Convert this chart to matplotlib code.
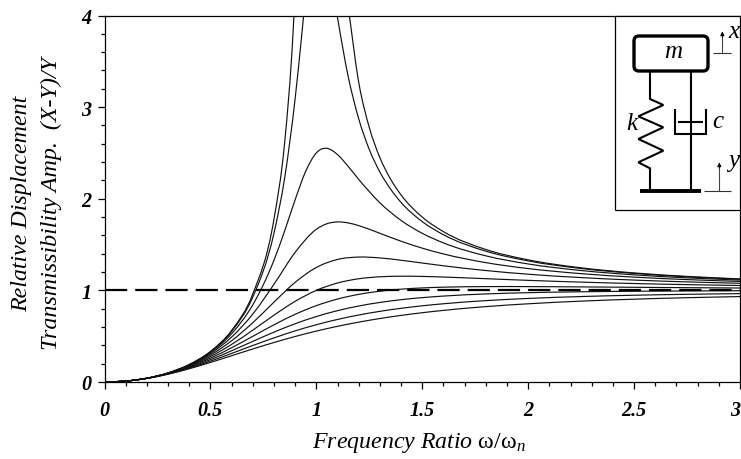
import matplotlib
matplotlib.use("Agg")
import matplotlib.pyplot as plt
from matplotlib.patches import FancyBboxPatch, Rectangle, PathPatch
from matplotlib.path import Path
from matplotlib.ticker import MultipleLocator, FixedFormatter, FixedLocator

plt.rcParams['font.family'] = ['Liberation Serif', 'DejaVu Serif']
plt.rcParams['mathtext.fontset'] = 'custom'
plt.rcParams['mathtext.rm'] = 'Liberation Serif'
plt.rcParams['mathtext.it'] = 'Liberation Serif:italic'

# Shared frequency-ratio grid for the heavily damped curves
ratio = [0, .1, .2, .3, .4, .5, .6, .7, .8, .9, 1, 1.1, 1.2, 1.3, 1.4, 1.5, 1.6, 1.8, 2, 2.25, 2.5, 2.75, 3]
curve_90 = [0, .0099, .0390, .0851, .1446, .2134, .2868, .3605, .4312, .4966, .5556, .6077, .6532, .6927, .7268, .7562, .7816, .8226, .8536, .8825, .9039, .92, .9325]
curve_80 = [0, .0100, .0395, .0875, .1515, .2280, .3120, .3982, .4813, .5577, .625, .6827, .7311, .7712, .8042, .8315, .8539, .8880, .9119, .9327, .9470, .9571, .9647]
curve_70 = [0, .0100, .0400, .0898, .1585, .2437, .3409, .4435, .5440, .6357, .7143, .7785, .8292, .8683, .8981, .9207, .9378, .9610, .9747, .9847, .9905, .9939, .9961]
curve_60 = [0, .0100, .0404, .0920, .1654, .2603, .3737, .4986, .6242, .7387, .8333, .9053, .9564, .9907, 1.0130, 1.0267, 1.0348, 1.0412, 1.0412, 1.0379, 1.0336, 1.0295, 1.0259]
curve_50 = [0, .0101, .0408, .0939, .1720, .2773, .4104, .5658, .7295, .8806, 1.0, 1.0805, 1.1267, 1.1483, 1.1546, 1.1523, 1.1456, 1.1275, 1.1094, 1.0901, 1.0748, 1.0628, 1.0534]
curve_40 = [0, .0101, .0411, .0956, .1780, .2941, .45, .6469, .8716, 1.0878, 1.25, 1.3374, 1.3636, 1.3541, 1.3287, 1.2985, 1.2686, 1.2167, 1.1765, 1.1394, 1.1125, 1.0925, 1.0776]

# Curves with a sharper peak carry extra points around it
ratio_30 = [0, .1, .2, .3, .4, .5, .6, .7, .8, .9, 1, 1.05, 1.1, 1.15, 1.2, 1.3, 1.4, 1.5, 1.6, 1.8, 2, 2.25, 2.5, 2.75, 3]
curve_30 = [0, .0101, .0413, .0970, .1831, .3095, .4903, .7416, 1.0667, 1.4149, 1.6667, 1.7273, 1.7470, 1.7364, 1.7066, 1.6228, 1.5365, 1.4608, 1.3976, 1.3029, 1.2380, 1.1825, 1.1447, 1.1176, 1.0976]
ratio_20 = [0, .1, .2, .3, .4, .5, .6, .7, .8, .85, .9, .95, 1, 1.02, 1.05, 1.1, 1.15, 1.2, 1.3, 1.4, 1.5, 1.6, 1.8, 2, 2.25, 2.5, 2.75, 3]
curve_20 = [0, .0101, .0415, .0981, .1871, .3221, .5267, .8422, 1.3287, 1.6462, 1.9898, 2.3005, 2.5, 2.5376, 2.5503, 2.4818, 2.3541, 2.2114, 1.9560, 1.7635, 1.6228, 1.5182, 1.3770, 1.2883, 1.2167, 1.1695, 1.1365, 1.1125]
ratio_10 = [0, .1, .2, .3, .4, .5, .6, .7, .8, .85, .9, .93, .95, 1, 1.05, 1.1, 1.15, 1.2, 1.25, 1.3, 1.35, 1.4, 1.5, 1.6, 1.8, 2, 2.25, 2.5, 2.75, 3]
curve_10 = [0, .0101, .0416, .0987, .1896, .3304, .5528, .9265, 1.6244, 2.2203, 3.0951, 3.7621, 4.2272, 5.0, 4.718, 3.979, 3.3388, 2.8731, 2.538, 2.2919, 2.107, 1.96, 1.7503, 1.6075, 1.4281, 1.3216, 1.2386, 1.1851, 1.1483, 1.1219]
ratio_00a = [0, .1, .2, .3, .4, .5, .6, .7, .8, .85, .89, .9]
curve_00a = [0, .0101, .0417, .0989, .1905, .3333, .5625, .9608, 1.7778, 2.6036, 3.810, 4.263]
ratio_00b = [1.15, 1.2, 1.25, 1.3, 1.35, 1.4, 1.5, 1.6, 1.8, 2, 2.25, 2.5, 2.75, 3]
curve_00b = [4.101, 3.2727, 2.778, 2.449, 2.216, 2.0417, 1.8, 1.641, 1.4464, 1.3333, 1.2462, 1.1905, 1.1524, 1.125]

reference_x = [0, 3]
reference_y = [1, 1]

x_ticks = [0, .5, 1, 1.5, 2, 2.5, 3]
x_tick_labels = ['0', '0.5', '1', '1.5', '2', '2.5', '3']
y_ticks = [0, 1, 2, 3, 4]
y_tick_labels = ['0', '1', '2', '3', '4']

W, H = 741, 460
fig = plt.figure(figsize=(W / 100, H / 100), dpi=100)
ax = fig.add_axes([104.5 / W, (H - 383) / H, (740 - 104.5) / W, (383 - 16.5) / H])


def smooth_path(xs, ys):
    """Bezier path through the read points: the pen curves, the points stay as read."""
    n = len(xs)
    slopes = []
    for i in range(n):
        if i == 0:
            slopes.append((ys[1] - ys[0]) / (xs[1] - xs[0]))
        elif i == n - 1:
            slopes.append((ys[-1] - ys[-2]) / (xs[-1] - xs[-2]))
        else:
            h0, h1 = xs[i] - xs[i - 1], xs[i + 1] - xs[i]
            d0, d1 = (ys[i] - ys[i - 1]) / h0, (ys[i + 1] - ys[i]) / h1
            slopes.append((h1 * d0 + h0 * d1) / (h0 + h1))
    verts = [(xs[0], ys[0])]
    codes = [Path.MOVETO]
    for i in range(n - 1):
        h = xs[i + 1] - xs[i]
        verts += [(xs[i] + h / 3, ys[i] + slopes[i] * h / 3),
                  (xs[i + 1] - h / 3, ys[i + 1] - slopes[i + 1] * h / 3),
                  (xs[i + 1], ys[i + 1])]
        codes += [Path.CURVE4] * 3
    return Path(verts, codes)


pairs = [(ratio, curve_90), (ratio, curve_80), (ratio, curve_70), (ratio, curve_60),
         (ratio, curve_50), (ratio, curve_40), (ratio_30, curve_30), (ratio_20, curve_20),
         (ratio_10, curve_10), (ratio_00a, curve_00a), (ratio_00b, curve_00b)]
for xs, ys in pairs:
    ax.add_patch(PathPatch(smooth_path(xs, ys), fc='none', ec='#111111', lw=0.85))
ax.plot(reference_x, reference_y, color='black', lw=1.6, dashes=(10, 3.6))

ax.set_xlim(0, 3)
ax.set_ylim(0, 4)
ax.xaxis.set_major_locator(FixedLocator(x_ticks))
ax.xaxis.set_major_formatter(FixedFormatter(x_tick_labels))
ax.yaxis.set_major_locator(FixedLocator(y_ticks))
ax.yaxis.set_major_formatter(FixedFormatter(y_tick_labels))
ax.xaxis.set_minor_locator(MultipleLocator(.1))
ax.yaxis.set_minor_locator(MultipleLocator(.2))
ax.tick_params(which='major', length=5, width=0.9)
ax.tick_params(which='minor', length=3, width=0.9)
ax.tick_params(axis='x', which='major', pad=8)
ax.tick_params(axis='y', which='major', pad=4.5)
for lab in ax.get_xticklabels() + ax.get_yticklabels():
    lab.set_fontsize(14.5)
    lab.set_fontweight('bold')
    lab.set_fontstyle('italic')
ax.get_xticklabels()[-1].set_horizontalalignment('right')
for s in ax.spines.values():
    s.set_linewidth(0.9)

# Overlay in pixel units for the labels and the mass-spring-damper sketch
ov = fig.add_axes([0, 0, 1, 1], zorder=5)
ov.set_xlim(0, W)
ov.set_ylim(H, 0)
ov.axis('off')
ov.patch.set_alpha(0)

ov.text(22, 204, 'Relative Displacement', rotation=90, ha='center', va='center', fontsize=17.3, style='italic')
ov.text(51, 203.5, 'Transmissibility Amp.  (X-Y)/Y', rotation=90, ha='center', va='center', fontsize=17.3, style='italic')
ov.text(418.5, 443, r'Frequency Ratio $\mathrm{\omega/\omega}_{n}$', ha='center', va='center', fontsize=17.2, style='italic')

ov.add_patch(Rectangle((614.5, 16.5), 125.5, 194, fc='white', ec='black', lw=0.9))


def z(px, py):
    return 600 + px / 3, py / 3


def poly(pts, lw=1.5, color='black'):
    xy = [z(*p) for p in pts]
    ov.plot([p[0] for p in xy], [p[1] for p in xy], color=color, lw=lw, solid_capstyle='butt', solid_joinstyle='miter')


ov.add_patch(FancyBboxPatch((638, 41), 66, 27, boxstyle='round,pad=4,rounding_size=5', fc='white', ec='black', lw=2.4))
poly([(150, 215), (150, 300), (190, 318), (115, 352), (190, 385), (115, 420), (190, 455), (115, 490), (150, 508), (150, 575)])
poly([(272, 215), (272, 405)])
poly([(235, 370), (308, 370)], lw=1.5)
poly([(225, 330), (225, 405), (318, 405), (318, 330)])
poly([(272, 405), (272, 575)])
poly([(120, 575), (303, 575)], lw=2.8)
poly([(313, 575), (392, 575)], lw=0.8, color='#333333')
poly([(358, 575), (358, 500)], lw=0.8, color='#444444')
poly([(340, 162), (392, 162)], lw=0.8, color='#333333')
poly([(367, 162), (367, 105)], lw=0.8, color='#444444')
for px, py in [(358, 490), (367, 97)]:
    ov.annotate('', xy=z(px, py), xytext=z(px, py + 18),
                arrowprops=dict(arrowstyle='-|>,head_width=0.12,head_length=0.25', color='black', lw=0.6, shrinkA=0, shrinkB=0))
for s, px, py in [('m', 220, 155), ('k', 95, 372), ('c', 352, 367), ('x', 403, 95), ('y', 402, 482)]:
    x0, y0 = z(px, py)
    ov.text(x0, y0, s, ha='center', va='center', fontsize=18, style='italic')

fig.savefig('out.png', dpi=100)
